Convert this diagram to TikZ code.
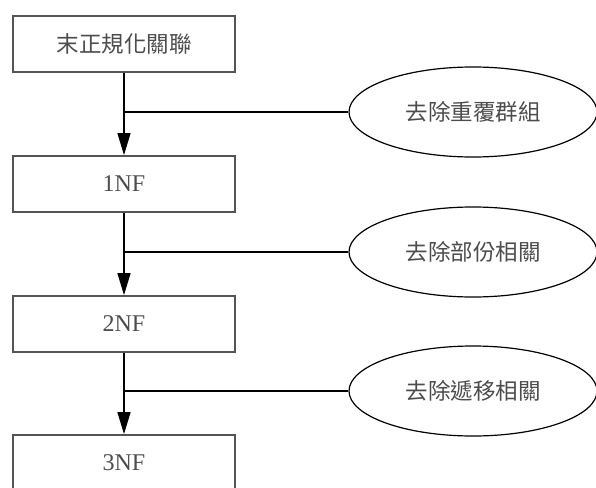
\documentclass[tikz,border=0pt]{standalone}
\usepackage{fontspec}
\setmainfont{Liberation Serif}
\newfontfamily\cjk{Noto Sans CJK TC}
\usetikzlibrary{arrows.meta}
\usetikzlibrary{shapes.geometric}
\usetikzlibrary{positioning}
\tikzset{stagebox/.style = {draw = mgray, line width = 1.8pt, minimum width = 222pt,
                            minimum height = 56pt, inner sep = 0, text = mtext}}
\tikzset{stepoval/.style = {ellipse, draw = black, line width = 1.2pt, minimum width = 248pt,
                            minimum height = 90pt, inner sep = 0, text = mtext}}
\tikzset{flow/.style = {line width = 1.3pt, -{Triangle[length = 22pt, width = 13pt]}}}
\tikzset{branch/.style = {line width = 1.3pt}}
\definecolor{mgray}{rgb}{0.33, 0.33, 0.33}
\definecolor{mtext}{rgb}{0.3, 0.3, 0.3}

\begin{document}
\begin{tikzpicture}[x = 1pt, y = -1pt, font = \fontsize{24}{28}\selectfont]
      \useasboundingbox (0, 0) rectangle (596, 487);

      \node [stagebox] (unf) at (124, 44) {\cjk\fontsize{22.5}{26}\selectfont 末正規化關聯};
      \node [stagebox] (nf1) at (124, 184) {1NF};
      \node [stagebox] (nf2) at (124, 324) {2NF};
      \node [stagebox] (nf3) at (124, 463) {3NF};

      \node [stepoval] (rep) at (473, 112) {\cjk\fontsize{22.5}{26}\selectfont 去除重覆群組};
      \node [stepoval] (par) at (473, 252) {\cjk\fontsize{22.5}{26}\selectfont 去除部份相關};
      \node [stepoval] (tra) at (473, 391) {\cjk\fontsize{22.5}{26}\selectfont 去除遞移相關};

      \draw [flow] (unf) -- (nf1);
      \draw [flow] (nf1) -- (nf2);
      \draw [flow] (nf2) -- (nf3);

      \draw [branch] (rep.west) -- (rep.west -| unf.south);
      \draw [branch] (par.west) -- (par.west -| nf1.south);
      \draw [branch] (tra.west) -- (tra.west -| nf2.south);
    \end{tikzpicture}
\end{document}
